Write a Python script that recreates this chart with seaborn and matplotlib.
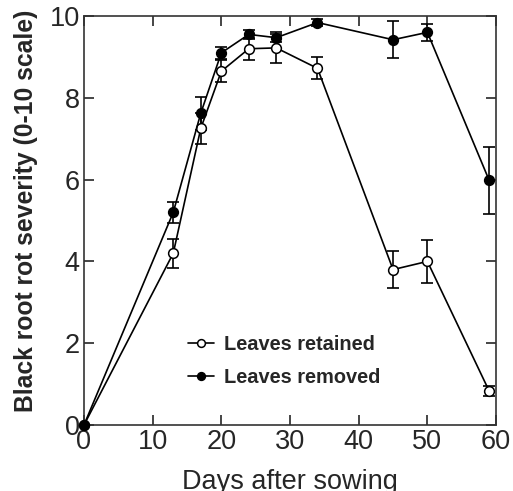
import numpy as np
import pandas as pd
import matplotlib
matplotlib.use("Agg")
import matplotlib.pyplot as plt
import seaborn as sns

# Sampling days and mean severity scores with standard errors
days = [0, 13, 17, 20, 24, 28, 34, 45, 50, 59]
retained = [0.0, 4.2, 7.25, 8.65, 9.2, 9.22, 8.72, 3.8, 4.0, 0.83]
retained_se = [0.0, 0.35, 0.38, 0.27, 0.27, 0.38, 0.27, 0.46, 0.52, 0.12]
removed = [0.0, 5.2, 7.62, 9.1, 9.55, 9.47, 9.84, 9.42, 9.6, 5.98]
removed_se = [0.0, 0.25, 0.4, 0.15, 0.12, 0.1, 0.08, 0.45, 0.2, 0.82]
series_names = ["Leaves retained", "Leaves removed"]

sns.set_theme(style="ticks")
plt.rcParams["font.family"] = ["Liberation Sans", "DejaVu Sans"]

df = pd.DataFrame({
    "day": days * 2,
    "severity": retained + removed,
    "treatment": [series_names[0]] * len(days) + [series_names[1]] * len(days),
})

fig = plt.figure(figsize=(5.13, 4.91), dpi=100)
ax = fig.add_axes([0.1637, 0.1344, 0.8033, 0.833])

face = {series_names[0]: "white", series_names[1]: "black"}
for name, se in zip(series_names, [retained_se, removed_se]):
    sub = df[df["treatment"] == name]
    ax.errorbar(sub["day"], sub["severity"], yerr=se, fmt="none",
                ecolor="black", elinewidth=1.2, capsize=4, capthick=1.2, zorder=2)
    sns.lineplot(data=sub, x="day", y="severity", ax=ax, color="black",
                 linewidth=1.2, marker="o", markersize=7,
                 markerfacecolor=face[name], markeredgecolor="black",
                 markeredgewidth=1.1, label=name, zorder=3, clip_on=False)

ax.set_xlim(0, 60)
ax.set_ylim(0, 10)
ax.set_xticks(range(0, 61, 10))
ax.set_yticks(range(0, 11, 2))
ax.tick_params(direction="in", length=7, width=1.2, labelsize=19.5,
               top=True, right=True, pad=3)
for s in ax.spines.values():
    s.set_linewidth(1.2)
    s.set_color("#333333")

ax.set_xlabel("Days after sowing", fontsize=19.5, labelpad=10)
ax.set_ylabel("Black root rot severity (0-10 scale)", fontsize=17.8,
              fontweight="bold")
ax.yaxis.set_label_coords(-0.112, 0.523)

leg = ax.legend(loc="upper left", bbox_to_anchor=(0.233, 0.24), frameon=False,
                handlelength=1.3, handletextpad=0.5, labelspacing=0.72,
                prop={"size": 14.4, "weight": "bold"}, borderaxespad=0,
                markerscale=0.8)

fig.savefig("out.png", dpi=100)
